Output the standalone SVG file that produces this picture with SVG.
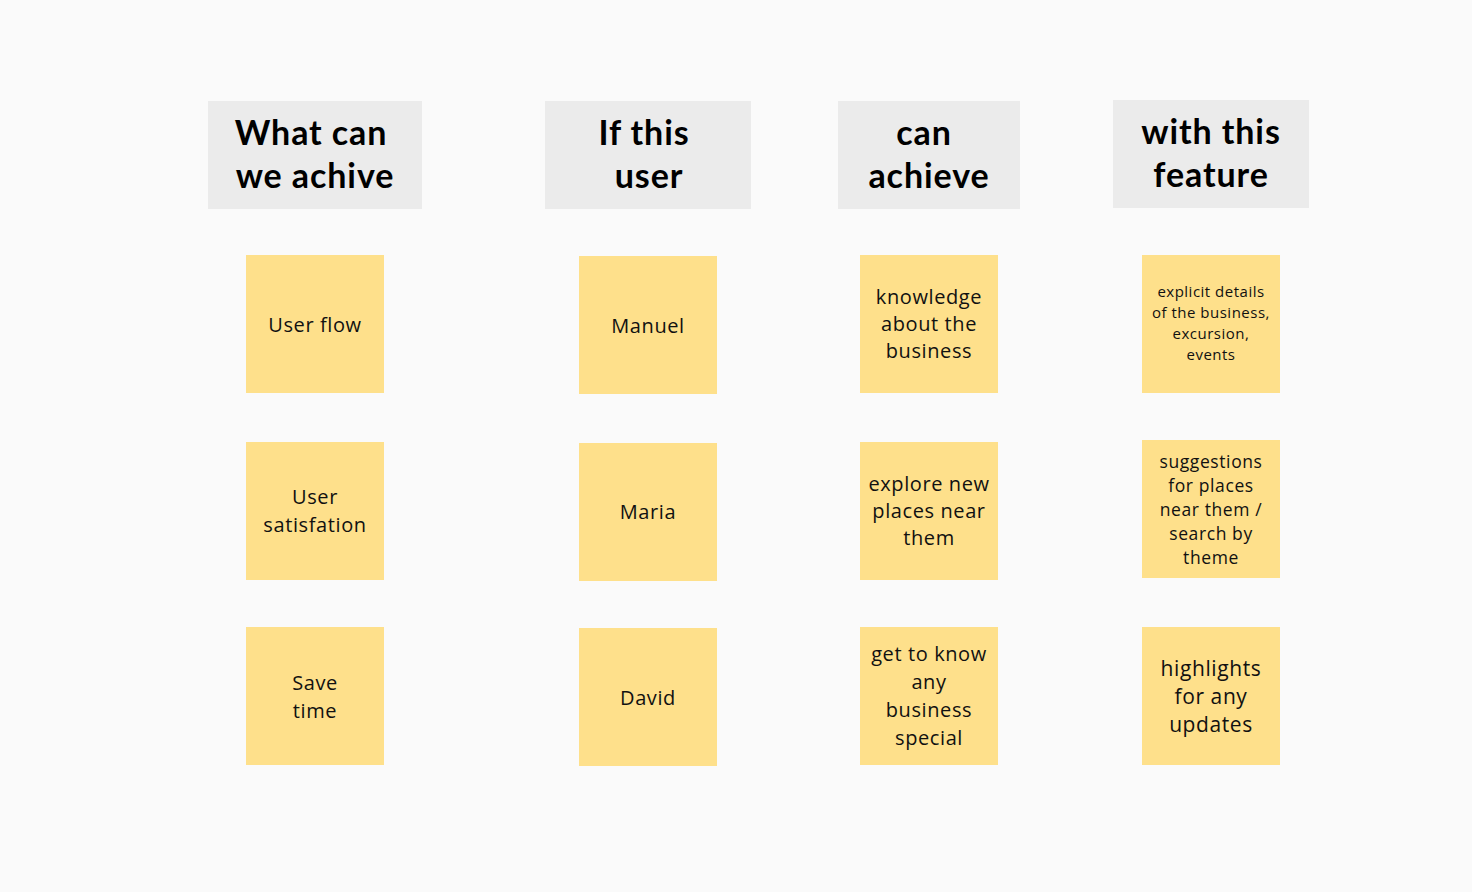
<svg xmlns="http://www.w3.org/2000/svg" width="1472" height="892" viewBox="0 0 1472 892">
<style>
.hdr{fill:#ebebeb}
.note{fill:#fee08b}
.ht{font-family:Lato,"Noto Sans",sans-serif;font-weight:700;font-size:34px;letter-spacing:0.9px;fill:#000;text-anchor:middle}
.nt{font-family:"Open Sans","Noto Sans",sans-serif;font-size:20px;letter-spacing:0.6px;fill:#111;text-anchor:middle}
.s15{font-size:15px;letter-spacing:0.5px}
.s17{font-size:17.5px}
.s21{font-size:21px}
</style>
<rect width="1472" height="892" fill="#fafafa"/>
<g id="h1"><rect class="hdr" x="208" y="101" width="214" height="108"/><text class="ht" x="311" y="145">What can</text><text class="ht" x="315" y="188">we achive</text></g>
<g id="h2"><rect class="hdr" x="545" y="101" width="206" height="108"/><text class="ht" x="644" y="145">If this</text><text class="ht" x="649" y="188">user</text></g>
<g id="h3"><rect class="hdr" x="838" y="101" width="182" height="108"/><text class="ht" x="924" y="145">can</text><text class="ht" x="929" y="188">achieve</text></g>
<g id="h4"><rect class="hdr" x="1113" y="100" width="196" height="108"/><text class="ht" x="1211" y="144">with this</text><text class="ht" x="1211" y="187">feature</text></g>

<g id="n11"><rect class="note" x="246" y="255" width="138" height="138"/><text class="nt" x="315" y="332">User flow</text></g>
<g id="n12"><rect class="note" x="246" y="442" width="138" height="138"/><text class="nt" x="315" y="504">User</text><text class="nt" x="315" y="532">satisfation</text></g>
<g id="n13"><rect class="note" x="246" y="627" width="138" height="138"/><text class="nt" x="315" y="690">Save</text><text class="nt" x="315" y="718">time</text></g>

<g id="n21"><rect class="note" x="579" y="256" width="138" height="138"/><text class="nt" x="648" y="333">Manuel</text></g>
<g id="n22"><rect class="note" x="579" y="443" width="138" height="138"/><text class="nt" x="648" y="519">Maria</text></g>
<g id="n23"><rect class="note" x="579" y="628" width="138" height="138"/><text class="nt" x="648" y="705">David</text></g>

<g id="n31"><rect class="note" x="860" y="255" width="138" height="138"/><text class="nt" x="929" y="304">knowledge</text><text class="nt" x="929" y="331">about the</text><text class="nt" x="929" y="358">business</text></g>
<g id="n32"><rect class="note" x="860" y="442" width="138" height="138"/><text class="nt" x="929" y="491">explore new</text><text class="nt" x="929" y="518">places near</text><text class="nt" x="929" y="545">them</text></g>
<g id="n33"><rect class="note" x="860" y="627" width="138" height="138"/><text class="nt" x="929" y="661">get to know</text><text class="nt" x="929" y="689">any</text><text class="nt" x="929" y="717">business</text><text class="nt" x="929" y="745">special</text></g>

<g id="n41"><rect class="note" x="1142" y="255" width="138" height="138"/><text class="nt s15" x="1211" y="297">explicit details</text><text class="nt s15" x="1211" y="318">of the business,</text><text class="nt s15" x="1211" y="339">excursion,</text><text class="nt s15" x="1211" y="360">events</text></g>
<g id="n42"><rect class="note" x="1142" y="440" width="138" height="138"/><text class="nt s17" x="1211" y="468">suggestions</text><text class="nt s17" x="1211" y="492">for places</text><text class="nt s17" x="1211" y="516">near them /</text><text class="nt s17" x="1211" y="540">search by</text><text class="nt s17" x="1211" y="564">theme</text></g>
<g id="n43"><rect class="note" x="1142" y="627" width="138" height="138"/><text class="nt s21" x="1211" y="676">highlights</text><text class="nt s21" x="1211" y="704">for any</text><text class="nt s21" x="1211" y="732">updates</text></g>
<g id="connectors"></g>
</svg>
